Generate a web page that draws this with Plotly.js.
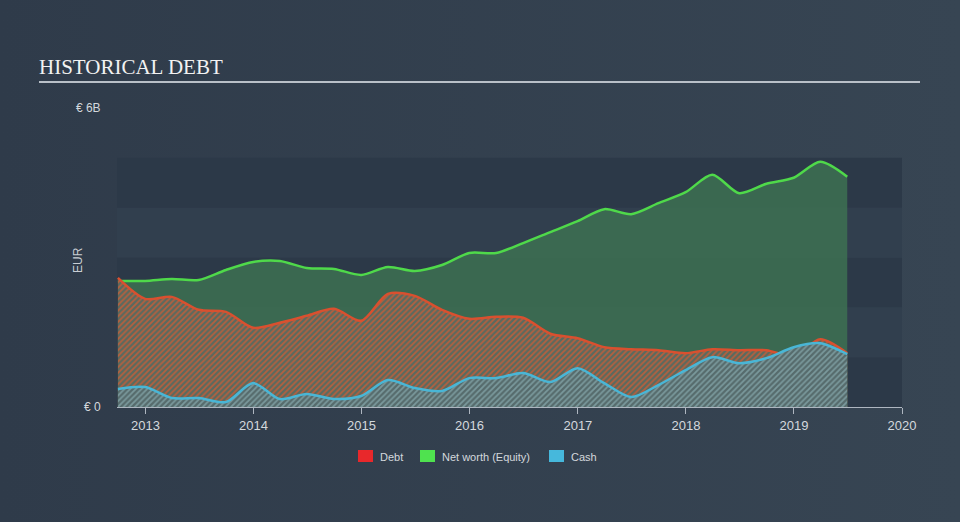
<!DOCTYPE html>
<html>
<head>
<meta charset="utf-8">
<script src="https://cdn.plot.ly/plotly-3.0.1.min.js"></script>
<style>
  html, body { margin: 0; padding: 0; background: linear-gradient(to right, #2f3b4a, #374553); }
  #chart { width: 960px; height: 522px; }
</style>
</head>
<body>
<div id="chart"></div>
<script>
// quarterly figures, EUR billions
var dates = [
    "2012-09-30", "2012-12-31", "2013-03-31", "2013-06-30", "2013-09-30", "2013-12-31",
    "2014-03-31", "2014-06-30", "2014-09-30", "2014-12-31", "2015-03-31", "2015-06-30",
    "2015-09-30", "2015-12-31", "2016-03-31", "2016-06-30", "2016-09-30", "2016-12-31",
    "2017-03-31", "2017-06-30", "2017-09-30", "2017-12-31", "2018-03-31", "2018-06-30",
    "2018-09-30", "2018-12-31", "2019-03-31", "2019-06-30"
];
var netWorth = [
    2.53, 2.53, 2.57, 2.55, 2.75, 2.91, 2.93, 2.79, 2.77, 2.65, 2.81, 2.73, 2.85, 3.09,
    3.09, 3.29, 3.51, 3.73, 3.97, 3.87, 4.09, 4.31, 4.66, 4.29, 4.48, 4.60, 4.92, 4.62
];
var debt = [
    2.59, 2.17, 2.21, 1.95, 1.91, 1.59, 1.69, 1.83, 1.97, 1.73, 2.27, 2.23, 1.95, 1.77,
    1.81, 1.79, 1.47, 1.38, 1.20, 1.16, 1.14, 1.08, 1.16, 1.14, 1.14, 1.02, 1.36, 1.08
];
var cash = [
    0.36, 0.40, 0.18, 0.18, 0.10, 0.48, 0.16, 0.26, 0.16, 0.22, 0.54, 0.38, 0.32, 0.58,
    0.58, 0.68, 0.50, 0.78, 0.48, 0.20, 0.44, 0.74, 1.00, 0.88, 0.98, 1.20, 1.28, 1.06
];
var yTickVals = [0, 6];
var yTickText = ["€ 0", "€ 6B"];
var xTickVals = ["2013-01-01", "2014-01-01", "2015-01-01", "2016-01-01", "2017-01-01", "2018-01-01", "2019-01-01", "2020-01-01"];
var xTickText = ["2013", "2014", "2015", "2016", "2017", "2018", "2019", "2020"];
var legendNames = ["Debt", "Net worth (Equity)", "Cash"];
var legendColors = ["#e8282b", "#4fe24f", "#46b8dc"];

var W = 960, H = 522;
var plotL = 117, plotR = 902, plotT = 108, plotB = 407;
function px(x) { return (x - plotL) / (plotR - plotL); }
function py(y) { return (plotB - y) / (plotB - plotT); }

var traces = [
    {
        x: dates, y: netWorth, type: "scatter", mode: "lines",
        line: { color: "#4fd94a", width: 2.5, shape: "spline", smoothing: 0.8 },
        fill: "tozeroy", fillcolor: "rgba(61,113,82,0.85)",
        showlegend: false, hoverinfo: "skip"
    },
    {
        x: dates, y: debt, type: "scatter", mode: "lines",
        line: { color: "#d9502f", width: 2.5, shape: "spline", smoothing: 0.8 },
        fill: "tozeroy",
        fillpattern: { shape: "/", fgcolor: "#b5603f", bgcolor: "#596a5f", size: 4, solidity: 0.45 },
        showlegend: false, hoverinfo: "skip"
    },
    {
        x: dates, y: cash, type: "scatter", mode: "lines",
        line: { color: "#49b6d6", width: 2.5, shape: "spline", smoothing: 0.8 },
        fill: "tozeroy",
        fillpattern: { shape: "/", fgcolor: "#7a999c", bgcolor: "#566b6c", size: 4, solidity: 0.45 },
        showlegend: false, hoverinfo: "skip"
    }
];

var shapes = [];
var annotations = [];
// alternating bands behind the plot
for (var b = 0; b < 5; b++) {
    shapes.push({
        type: "rect", xref: "paper", yref: "y", layer: "below",
        x0: 0, x1: 1, y0: b, y1: b + 1,
        fillcolor: b % 2 === 0 ? "#2c3948" : "#313f4e",
        line: { width: 0 }
    });
}
// rule under the heading
shapes.push({
    type: "line", xref: "paper", yref: "paper",
    x0: px(39), x1: px(920), y0: py(82), y1: py(82),
    line: { color: "#b9c0c8", width: 2 }
});

// legend drawn by hand: square + label
var legX = [358, 420, 549];
for (var i = 0; i < legendNames.length; i++) {
    shapes.push({
        type: "rect", xref: "paper", yref: "paper",
        x0: px(legX[i]), x1: px(legX[i] + 15), y0: py(462), y1: py(450),
        fillcolor: legendColors[i], line: { width: 0 }
    });
    annotations.push({
        xref: "paper", yref: "paper", x: px(legX[i] + 20), y: py(457),
        xanchor: "left", yanchor: "middle", showarrow: false,
        text: legendNames[i], font: { size: 11, color: "#d4d8dd" }
    });
}
// y axis title
annotations.push({
    xref: "paper", yref: "paper", x: px(78), y: py(260),
    xanchor: "center", yanchor: "middle", showarrow: false, textangle: -90,
    text: "EUR", font: { size: 12, color: "#c9ced4" }
});

var layout = {
    width: W, height: H,
    paper_bgcolor: "rgba(0,0,0,0)",
    plot_bgcolor: "rgba(0,0,0,0)",
    margin: { l: plotL, r: W - plotR, t: plotT, b: H - plotB },
    font: { family: "Liberation Sans, Arial, sans-serif", color: "#d4d8dd", size: 12 },
    title: {
        text: "HISTORICAL DEBT",
        font: { family: "Liberation Serif, Times New Roman, serif", size: 21, color: "#f2f2f2" },
        x: 39 / W, xanchor: "left", xref: "container",
        y: 1 - 67 / H, yanchor: "middle", yref: "container"
    },
    xaxis: {
        type: "date",
        range: ["2012-09-27", "2020-01-01"],
        tickvals: xTickVals, ticktext: xTickText,
        ticks: "outside", ticklen: 6, tickcolor: "#aeb6c0", tickwidth: 1,
        showline: true, linecolor: "#aeb6c0", linewidth: 1,
        showgrid: false, zeroline: false,
        tickfont: { size: 13, color: "#d4d8dd" }
    },
    yaxis: {
        range: [0, 6],
        tickvals: yTickVals, ticktext: yTickText,
        ticks: "outside", ticklen: 13, tickcolor: "rgba(0,0,0,0)",
        showline: false, showgrid: false, zeroline: false,
        tickfont: { size: 12, color: "#d4d8dd" }
    },
    showlegend: false,
    shapes: shapes,
    annotations: annotations,
    hovermode: false
};

Plotly.newPlot("chart", traces, layout, { staticPlot: true });
</script>
</body>
</html>
